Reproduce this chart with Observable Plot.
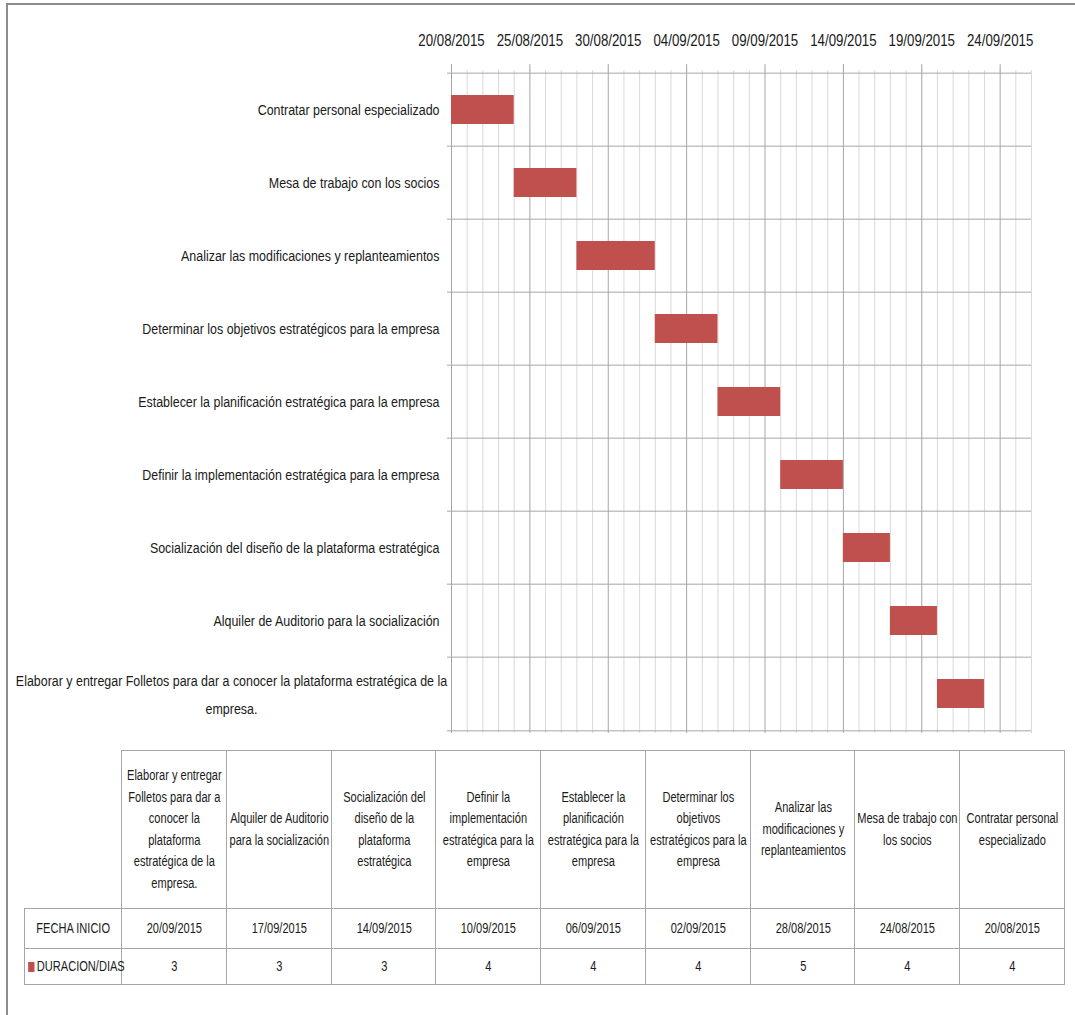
<!DOCTYPE html>
<html><head><meta charset="utf-8">
<script src="https://cdn.jsdelivr.net/npm/d3@7"></script>
<script src="https://cdn.jsdelivr.net/npm/@observablehq/plot@0.6"></script>
<style>
body{margin:0;background:#fff;}
#wrap{position:relative;width:1075px;height:1015px;overflow:hidden;font-family:"Liberation Sans",Arial,sans-serif;color:#1a1a1a}
#border{position:absolute;left:6px;top:3px;width:1200px;height:1200px;border-top:2px solid #8c8c8c;border-left:2px solid #8c8c8c}
#chart{position:absolute;left:0;top:0}
#tbl{position:absolute;left:24px;top:750px;border-collapse:collapse;table-layout:fixed;width:1040px;font-size:14px;line-height:21.5px}
#tbl td{border:1px solid #a6a6a6;text-align:center;vertical-align:middle;padding:0;overflow:visible}
#tbl td.blank{border-top:none;border-left:none}
#tbl td .sq{width:130px;transform:scaleX(0.79);transform-origin:0 50%;margin-left:1px;text-align:center}
#tbl td .sq1{width:122px;transform:scaleX(0.79);transform-origin:0 50%;text-align:center}
.key{display:inline-block;width:8px;height:10px;background:#C0504D;margin-right:3px;vertical-align:-1px}
</style></head><body><div id="wrap"><div id="border"></div><div id="chart"></div><table id="tbl"></table></div>
<script>
const tasks = [
  "Contratar personal especializado",
  "Mesa de trabajo con los socios",
  "Analizar las modificaciones y replanteamientos",
  "Determinar los objetivos estratégicos para la empresa",
  "Establecer la planificación estratégica para la empresa",
  "Definir la implementación estratégica para la empresa",
  "Socialización del diseño de la plataforma estratégica",
  "Alquiler de Auditorio para la socialización",
  "Elaborar y entregar Folletos para dar a conocer la plataforma estratégica de la empresa."
];
const startDates = ["2015-08-20","2015-08-24","2015-08-28","2015-09-02","2015-09-06","2015-09-10","2015-09-14","2015-09-17","2015-09-20"];
const durations = [4,4,5,4,4,4,3,3,3];
const tickDates = ["2015-08-20","2015-08-25","2015-08-30","2015-09-04","2015-09-09","2015-09-14","2015-09-19","2015-09-24"];
const axisStart = "2015-08-20", axisEnd = "2015-09-26";
const rowLabels = ["FECHA INICIO","DURACION/DIAS"];

const parse = d3.utcParse("%Y-%m-%d");
const fmt = d3.utcFormat("%d/%m/%Y");
const data = tasks.map((t,i)=>({task:t,start:parse(startDates[i]),end:d3.utcDay.offset(parse(startDates[i]),durations[i]),dur:durations[i]}));
const x0 = parse(axisStart), x1 = parse(axisEnd);
const ticks = tickDates.map(parse);
const days = d3.utcDay.range(x0, d3.utcDay.offset(x1,1)).filter(d=>!ticks.some(t=>+t===+d));
const H = 735, mT = 70, mB = 2;
const bw = (H-mT-mB)/tasks.length;
const isLong = t => t.length > 60;
function wrap(t){ if(!isLong(t)) return t; const k=t.lastIndexOf(" de la")+6; return t.slice(0,k)+"\n"+t.slice(k+1);}
const font = '"Liberation Sans",Arial,sans-serif';
const grid = "#a6a6a6";
const SX = 0.83;

const plot = Plot.plot({
  width:1075, height:H, marginTop:mT, marginBottom:mB, marginLeft:451, marginRight:44,
  style:{fontFamily:font, fontSize:"15px", color:"#1a1a1a", background:"transparent"},
  x:{type:"utc", domain:[x0,x1]},
  y:{type:"band", domain:tasks, padding:0, axis:null},
  marks:[
    Plot.ruleX(days,{stroke:"#d9d9d9"}),
    Plot.ruleX(ticks,{stroke:grid}),
    Plot.ruleY(tasks,{y:d=>d, dy:-bw/2, insetLeft:-4, stroke:grid}),
    Plot.ruleY([tasks[tasks.length-1]],{y:d=>d, dy:bw/2, insetLeft:-4, stroke:grid}),
    Plot.barX(data,{y:"task", x1:"start", x2:"end", fill:"#C0504D", insetTop:22, insetBottom:22}),
    Plot.axisX({anchor:"top", ticks:ticks, tickFormat:fmt, tickSize:7, tickPadding:18, fontSize:16, stroke:grid, label:null}),
    Plot.text(tasks.filter(t=>!isLong(t)),{y:d=>d, frameAnchor:"left", dx:-12, textAnchor:"end", fontSize:15}),
    Plot.text(tasks.filter(isLong),{y:d=>d, text:wrap, frameAnchor:"left", dx:-220, dy:-3, textAnchor:"middle", fontSize:15, lineHeight:1.85})
  ]
});
// condense the text horizontally (narrow, Calibri-like look)
plot.querySelectorAll("text").forEach(t=>{
  const tr = t.getAttribute("transform");
  if (tr) t.setAttribute("transform", tr + ` scale(${SX},1)`);
});
document.getElementById("chart").appendChild(plot);

// data table
const order = d3.range(tasks.length).reverse();
const tbl = d3.select("#tbl");
const cg = tbl.append("colgroup");
cg.append("col").style("width","97px");
order.forEach(()=>cg.append("col").style("width","104.78px"));
const r1 = tbl.append("tr").style("height","158px");
r1.append("td").attr("class","blank");
order.forEach(i=>r1.append("td").append("div").attr("class","sq").text(tasks[i]));
const r2 = tbl.append("tr").style("height","40px");
r2.append("td").append("div").attr("class","sq1").text(rowLabels[0]);
order.forEach(i=>r2.append("td").append("div").attr("class","sq").text(fmt(parse(startDates[i]))));
const r3 = tbl.append("tr").style("height","36px");
const c3 = r3.append("td").append("div").attr("class","sq1").style("text-align","left").style("white-space","nowrap").style("padding-left","4px");
c3.append("span").attr("class","key");
c3.append("span").text(rowLabels[1]);
order.forEach(i=>r3.append("td").append("div").attr("class","sq").text(durations[i]));
</script></body></html>
